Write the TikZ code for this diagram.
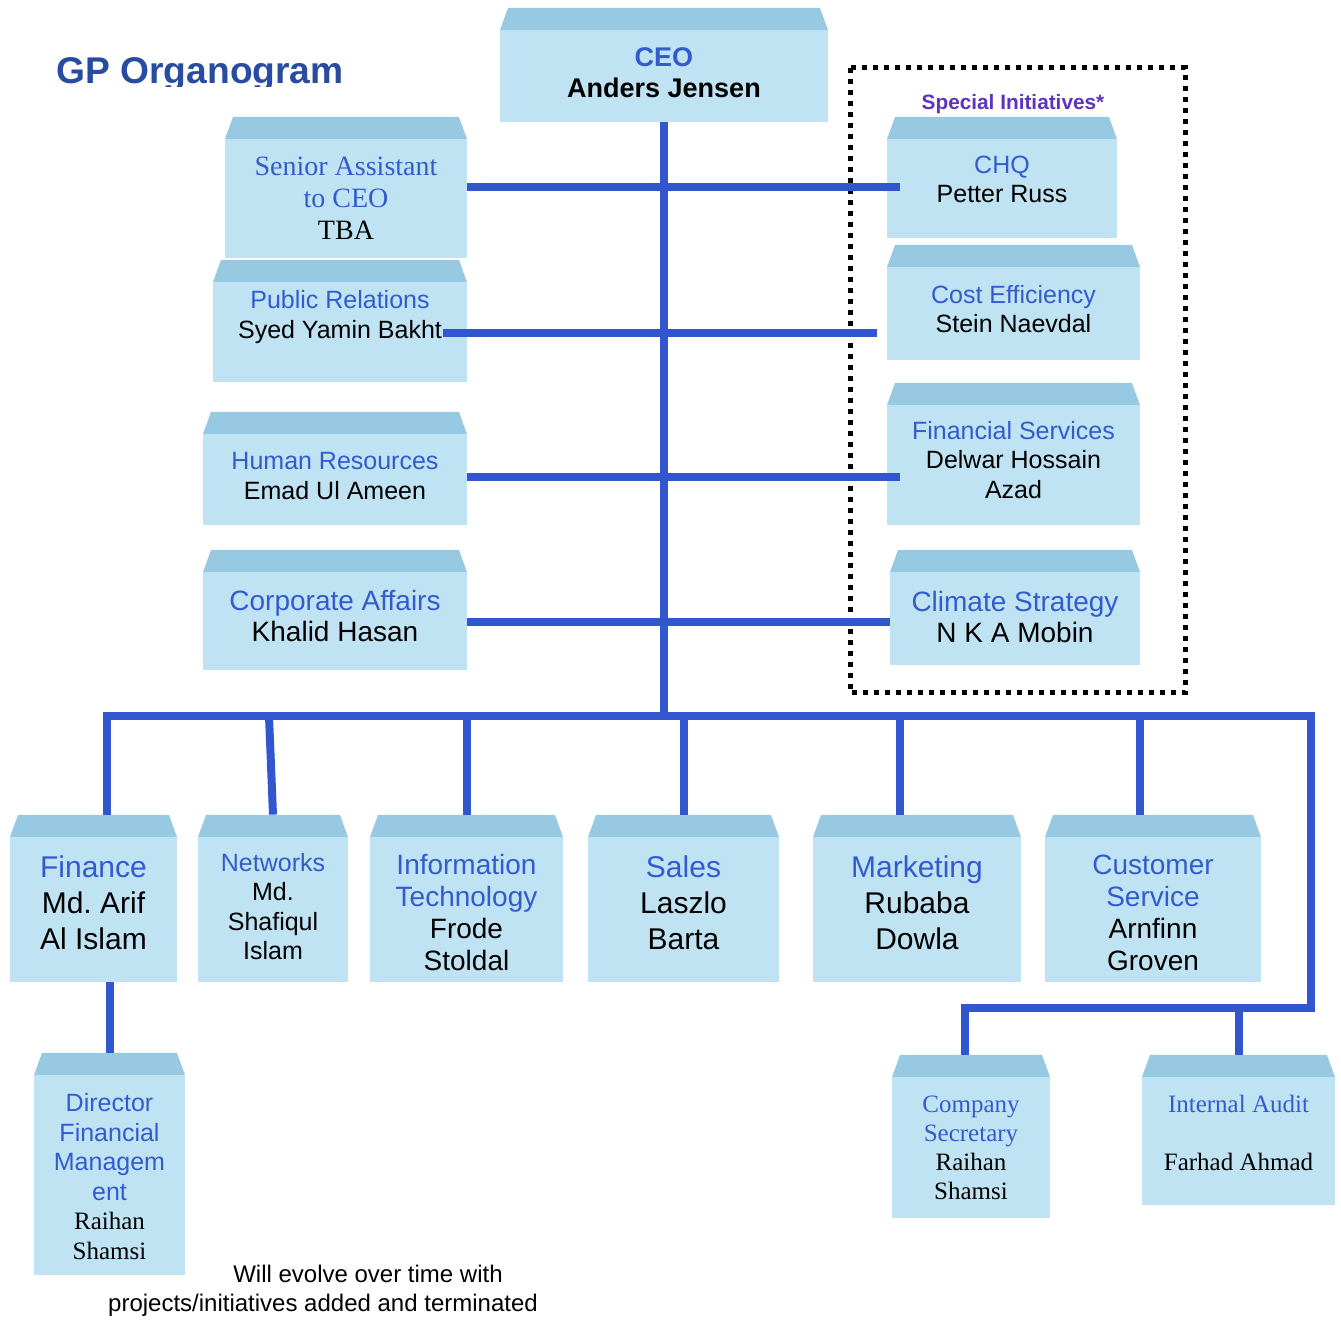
\documentclass[tikz,border=0pt]{standalone}
\usepackage{fontspec}
\setmainfont{Liberation Sans}
\newfontfamily\romanfont{Liberation Serif}
\frenchspacing
\definecolor{rolecol}{RGB}{50,92,206}
\definecolor{linecol}{RGB}{50,86,206}
\definecolor{bodycol}{RGB}{192,227,243}
\definecolor{topcol}{RGB}{152,201,227}
\definecolor{titlecol}{RGB}{40,76,160}
\definecolor{specialcol}{RGB}{92,52,192}
\newcommand{\role}[1]{{\color{rolecol}#1}}
\begin{document}
\begin{tikzpicture}[
        x=0.5pt, y=-0.5pt,
        unit/.style={fill=white, inner sep=0pt,
            path picture={
                \fill[bodycol] ([yshift=-11pt]path picture bounding box.north west)
                    rectangle (path picture bounding box.south east);
                \fill[topcol] ([xshift=4pt]path picture bounding box.north west)
                    -- ([xshift=-4pt]path picture bounding box.north east)
                    -- ([yshift=-11pt]path picture bounding box.north east)
                    -- ([yshift=-11pt]path picture bounding box.north west) -- cycle;
            }},
        say/.style={align=center, inner sep=0pt},
        small/.style={font=\fontsize{12.5}{14.6}\selectfont},
        mid/.style={font=\fontsize{14}{15.8}\selectfont},
        big/.style={font=\fontsize{15}{18}\selectfont},
        link/.style={draw=linecol, line width=4pt, line join=miter},
        frame/.style={draw=black, line width=2.5pt, dash pattern=on 2.5pt off 3pt},
    ]
    \fill[white] (0,0) rectangle (1341,1320);
    \useasboundingbox (0,0) rectangle (1341,1320);

    % title, cut off at the bottom as in the slide
    \begin{scope}
        \clip (0,0) rectangle (480,87);
        \node[anchor=base west, inner sep=0pt, text=titlecol,
            font=\fontsize{18.6}{20}\selectfont\bfseries] (title) at (56,84) {GP Organogram};
    \end{scope}

    \node[unit, minimum width=164pt, minimum height=57pt,
        label={[say, yshift=-4pt, font=\fontsize{13.5}{15.5}\selectfont\bfseries]center:{\role{CEO}\\Anders Jensen}}]
        (ceo) at (664,65) {};

    % left column
    \node[unit, minimum width=121pt, minimum height=70.5pt,
        label={[say, yshift=-5.5pt, font=\romanfont\fontsize{14}{16}\selectfont]center:{\role{Senior Assistant}\\\role{to CEO}\\TBA}}]
        (sa) at (346,187.5) {};
    \node[unit, minimum width=127pt, minimum height=61pt,
        label={[say, small, yshift=2pt]center:{\role{Public Relations}\\Syed Yamin Bakht}}]
        (pr) at (340,321) {};
    \node[unit, minimum width=132pt, minimum height=56.5pt,
        label={[say, small, yshift=-3.75pt]center:{\role{Human Resources}\\Emad Ul Ameen}}]
        (hr) at (335,468.5) {};
    \node[unit, minimum width=132pt, minimum height=60pt,
        label={[say, mid, yshift=-3pt]center:{\role{Corporate Affairs}\\Khalid Hasan}}]
        (ca) at (335,610) {};

    % special initiatives
    \draw[frame] (850,68) rectangle (1185,693);
    \node[text=specialcol, font=\fontsize{10.4}{12}\selectfont\bfseries] (special) at (1013,104)
        {Special Initiatives*};
    \node[unit, minimum width=115pt, minimum height=60.5pt,
        label={[say, small, yshift=-1pt]center:{\role{CHQ}\\Petter Russ}}]
        (chq) at (1002,177.5) {};
    \node[unit, minimum width=126.5pt, minimum height=57.5pt,
        label={[say, small, yshift=-3.25pt]center:{\role{Cost Efficiency}\\Stein Naevdal}}]
        (ce) at (1013.5,302.5) {};
    \node[unit, minimum width=126.5pt, minimum height=71pt,
        label={[say, small, yshift=-3pt]center:{\role{Financial Services}\\Delwar Hossain\\Azad}}]
        (fs) at (1013.5,454) {};
    \node[unit, minimum width=125pt, minimum height=57.5pt,
        label={[say, mid, yshift=-4.75pt]center:{\role{Climate Strategy}\\N K A Mobin}}]
        (clim) at (1015,607.5) {};

    % directors
    \node[unit, minimum width=83.5pt, minimum height=83.5pt,
        label={[say, big, yshift=-2.25pt]center:{\role{Finance}\\Md. Arif\\Al Islam}}]
        (fin) at (93.5,898.5) {};
    \node[unit, minimum width=75pt, minimum height=83.5pt,
        label={[say, font=\fontsize{12.5}{14.8}\selectfont, yshift=-4pt]center:{\role{Networks}\\Md.\\Shafiqul\\Islam}}]
        (net) at (273,898.5) {};
    \node[unit, minimum width=96.5pt, minimum height=83.5pt,
        label={[say, font=\fontsize{14}{16}\selectfont, yshift=-7pt]center:{\role{Information}\\\role{Technology}\\Frode\\Stoldal}}]
        (it) at (466.5,898.5) {};
    \node[unit, minimum width=95.5pt, minimum height=83.5pt,
        label={[say, big, yshift=-2pt]center:{\role{Sales}\\Laszlo\\Barta}}]
        (sal) at (683.5,898.5) {};
    \node[unit, minimum width=104pt, minimum height=83.5pt,
        label={[say, big, yshift=-2pt]center:{\role{Marketing}\\Rubaba\\Dowla}}]
        (mkt) at (917,898.5) {};
    \node[unit, minimum width=108pt, minimum height=83.5pt,
        label={[say, font=\fontsize{14}{16}\selectfont, yshift=-7pt]center:{\role{Customer}\\\role{Service}\\Arnfinn\\Groven}}]
        (cus) at (1153,898.5) {};

    % third level
    \node[unit, minimum width=75.5pt, minimum height=111pt,
        label={[say, font=\fontsize{12.5}{14.8}\selectfont, yshift=-6.25pt]center:{\role{Director}\\\role{Financial}\\\role{Managem}\\\role{ent}\\{\romanfont Raihan}\\{\romanfont Shamsi}}}]
        (dfm) at (109.5,1164) {};
    \node[unit, minimum width=79pt, minimum height=81.5pt,
        label={[say, font=\romanfont\fontsize{12.5}{14.5}\selectfont, yshift=-5.5pt]center:{\role{Company}\\\role{Secretary}\\Raihan\\Shamsi}}]
        (sec) at (971,1136.5) {};
    \node[unit, minimum width=96.5pt, minimum height=75pt,
        label={[say, font=\romanfont\fontsize{12.5}{14.5}\selectfont, yshift=-1.5pt]center:{\role{Internal Audit}\\[14.5pt]Farhad Ahmad}}]
        (aud) at (1238.5,1130) {};

    \node[align=center, font=\fontsize{12}{14.5}\selectfont] (note) at (323,1291)
        {\hspace*{45pt}Will evolve over time with\\projects/initiatives added and terminated};

    % connectors
    \coordinate (busL) at (107,716);
    \coordinate (busR) at (1311,716);
    \coordinate (audR) at (1311,1008);

    \draw[link] (ceo.south) -- (ceo.south |- busL);
    \draw[link] (sa.east) -- ([xshift=6.5pt]sa.east -| chq.west);
    \draw[link] ([xshift=-12pt,yshift=-6pt]pr.east) -- ([xshift=-5pt,yshift=-6pt]pr.east -| ce.west);
    \draw[link] ([yshift=-4.5pt]hr.east) -- ([xshift=6.5pt,yshift=-4.5pt]hr.east -| fs.west);
    \draw[link] ([yshift=-6pt]ca.east) -- ([yshift=-6pt]ca.east -| clim.west);

    \draw[link] (busL |- fin.north) -- (busL) -- (busR) -- (audR) -| ([xshift=-3pt]sec.north);
    \draw[link] (aud.north) -- (aud.north |- audR);
    \draw[link] (net.north) -- ([xshift=-2pt]net.north |- busL);
    \draw[link] (it.north) -- (it.north |- busL);
    \draw[link] (sal.north) -- (sal.north |- busL);
    \draw[link] ([xshift=-8.5pt]mkt.north) -- ([xshift=-8.5pt]mkt.north |- busL);
    \draw[link] ([xshift=-6.5pt]cus.north) -- ([xshift=-6.5pt]cus.north |- busL);
    \draw[link] (fin.south -| dfm.north) -- (dfm.north);

\end{tikzpicture}
\end{document}
